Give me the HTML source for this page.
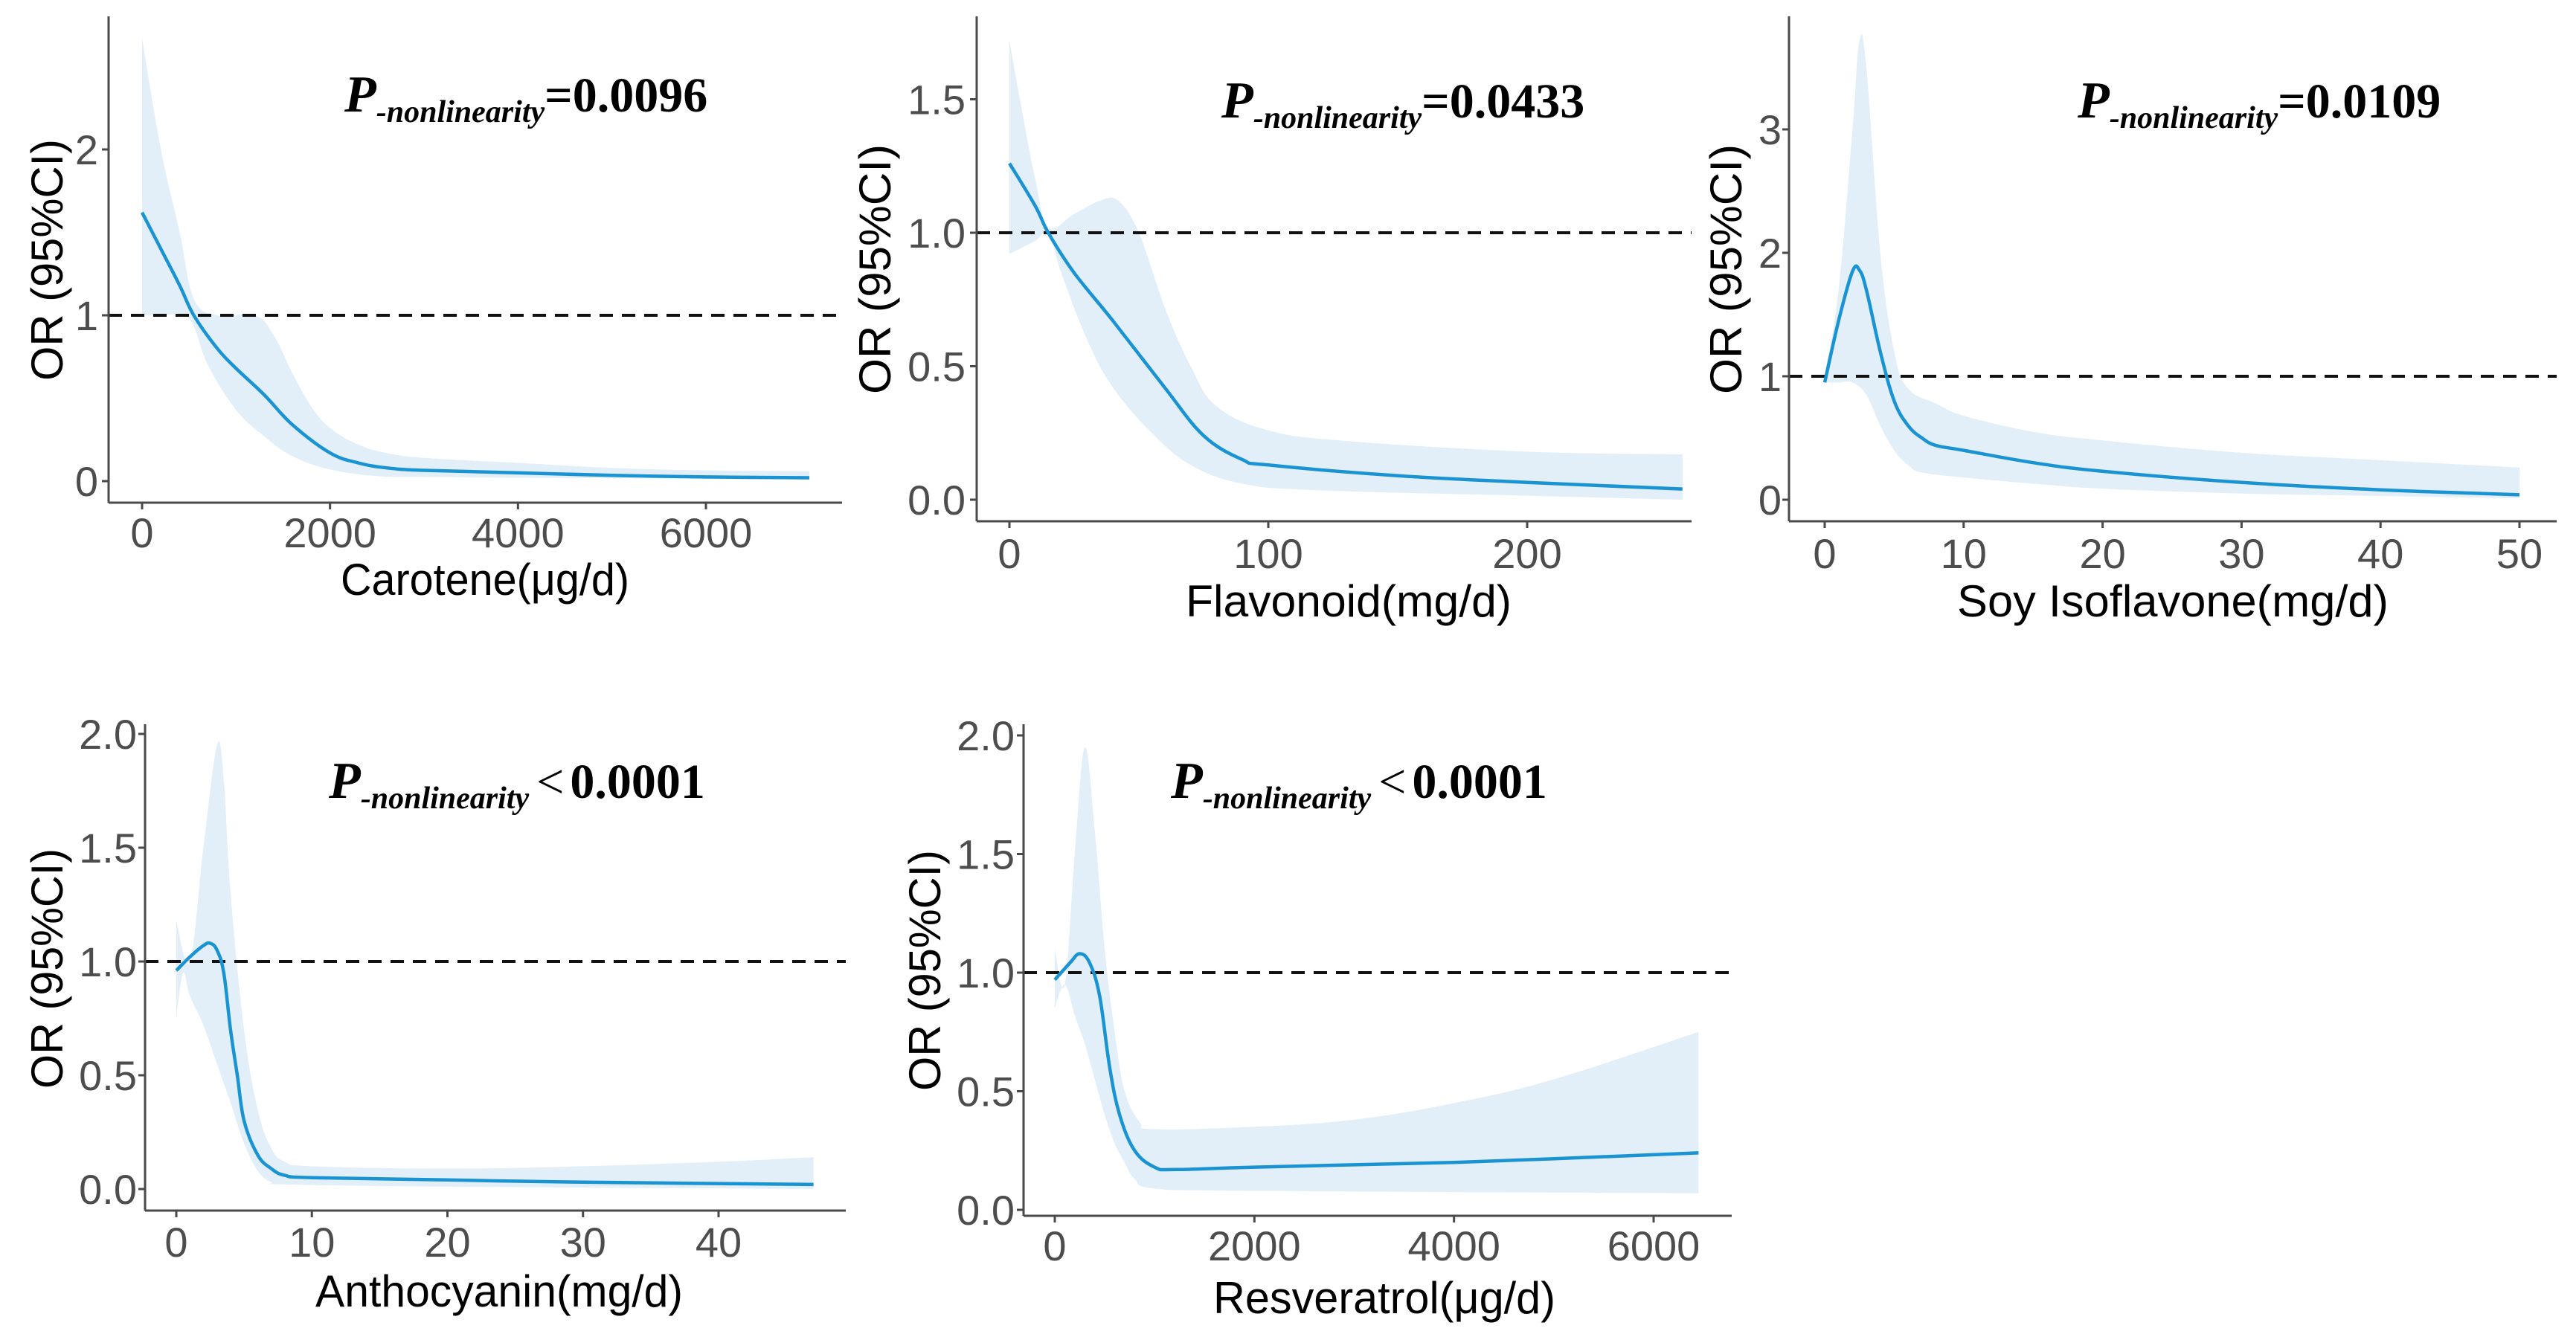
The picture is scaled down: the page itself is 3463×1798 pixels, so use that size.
<!DOCTYPE html>
<html><head><meta charset="utf-8">
<style>
html,body{margin:0;padding:0;background:#fff;}
svg{display:block;}
</style></head>
<body>
<svg id="chart" width="3463" height="1798" viewBox="0 0 3463 1798" xmlns="http://www.w3.org/2000/svg"></svg>
<script>
// ---- Panel 1: Carotene ----
const p1X = [0,200,400,550,800,1000,1300,1600,2000,2300,2600,3000,4000,5000,6000,7100];
const p1Y = [1.62,1.4,1.18,1.0,0.8,0.68,0.52,0.34,0.17,0.11,0.08,0.065,0.05,0.035,0.025,0.02];
const p1UX = [0,200,400,550,800,1200,1400,1600,1800,2000,2300,2600,3000,4000,5000,6000,7100];
const p1U = [2.67,2.0,1.5,1.1,1.0,1.0,0.88,0.65,0.45,0.32,0.22,0.17,0.14,0.11,0.08,0.065,0.06];
const p1LX = [0,200,500,700,1000,1300,1600,2000,2500,3000,4000,7100];
const p1L = [1.0,1.0,0.98,0.7,0.43,0.27,0.15,0.07,0.03,0.025,0.02,0.01];
const p1XTicks = [0,2000,4000,6000];
const p1YTicks = [0,1,2];
const p1YLabels = ["0","1","2"];
// ---- Panel 2: Flavonoid ----
const p2X = [0,10,15,25,40,60,75,90,100,150,200,260];
const p2Y = [1.26,1.1,1.0,0.85,0.67,0.42,0.24,0.15,0.13,0.09,0.065,0.04];
const p2UX = [0,5,10,15,25,35,42,50,60,70,80,100,130,200,260];
const p2U = [1.72,1.45,1.2,1.02,1.07,1.12,1.12,1.0,0.72,0.5,0.35,0.26,0.22,0.18,0.17];
const p2LX = [0,10,15,20,30,40,55,70,90,120,200,260];
const p2L = [0.92,0.97,1.0,0.85,0.6,0.42,0.25,0.13,0.06,0.035,0.015,0.0];
const p2XTicks = [0,100,200];
const p2YTicks = [0,0.5,1.0,1.5];
const p2YLabels = ["0.0","0.5","1.0","1.5"];
// ---- Panel 3: Soy Isoflavone ----
const p3X = [0,1,2,2.5,3,4,5,6,7,8,10,15,20,30,40,50];
const p3Y = [0.95,1.45,1.85,1.86,1.7,1.2,0.8,0.6,0.5,0.44,0.4,0.3,0.23,0.14,0.08,0.04];
const p3UX = [0,1,2,2.5,3,4,5,6,8,10,15,20,30,40,50];
const p3U = [1.0,1.7,3.0,3.72,3.5,2.0,1.2,0.9,0.78,0.68,0.55,0.48,0.38,0.32,0.26];
const p3LX = [0,1,2,3,4,5,6,7,10,15,20,30,40,50];
const p3L = [0.95,0.95,0.95,0.85,0.6,0.4,0.28,0.22,0.18,0.13,0.09,0.05,0.03,0.01];
const p3XTicks = [0,10,20,30,40,50];
const p3YTicks = [0,1,2,3];
const p3YLabels = ["0","1","2","3"];
// ---- Panel 4: Anthocyanin ----
const p4X = [0,1,2,2.5,3,3.5,4,4.5,5,6,7,8,10,20,30,47];
const p4Y = [0.96,1.02,1.07,1.08,1.05,0.95,0.7,0.5,0.3,0.15,0.09,0.06,0.05,0.04,0.03,0.02];
const p4UX = [0,1,2,3,3.5,4,5,6,7,8,10,20,30,40,47];
const p4U = [1.18,1.0,1.5,1.95,1.8,1.3,0.7,0.35,0.18,0.12,0.1,0.09,0.1,0.12,0.14];
const p4LX = [0,0.5,1,2,3,4,5,6,7,8,20,47];
const p4L = [0.75,0.95,0.85,0.72,0.55,0.38,0.2,0.08,0.03,0.02,0.01,0.0];
const p4XTicks = [0,10,20,30,40];
const p4YTicks = [0,0.5,1.0,1.5,2.0];
const p4YLabels = ["0.0","0.5","1.0","1.5","2.0"];
// ---- Panel 5: Resveratrol ----
const p5X = [0,150,250,350,450,550,650,800,1000,1200,2000,4000,6450];
const p5Y = [0.97,1.04,1.08,1.04,0.9,0.6,0.4,0.25,0.18,0.17,0.18,0.2,0.24];
const p5UX = [0,100,200,300,400,500,600,700,850,1000,2000,3000,4000,5000,6450];
const p5U = [1.1,0.95,1.5,1.95,1.6,1.1,0.75,0.5,0.37,0.34,0.35,0.38,0.45,0.55,0.75];
const p5LX = [0,100,200,300,400,500,600,700,800,1000,2000,6450];
const p5L = [0.85,0.95,0.82,0.7,0.55,0.4,0.28,0.2,0.13,0.09,0.08,0.07];
const p5XTicks = [0,2000,4000,6000];
const p5YTicks = [0,0.5,1.0,1.5,2.0];
const p5YLabels = ["0.0","0.5","1.0","1.5","2.0"];

const NS = "http://www.w3.org/2000/svg";
const svg = document.getElementById("chart");
function mk(tag, attrs, parent){
  const e = document.createElementNS(NS, tag);
  for (const k in attrs) e.setAttribute(k, attrs[k]);
  (parent||svg).appendChild(e);
  return e;
}
// smooth path segments through points (Catmull-Rom to Bezier)
function smooth(pts, start){
  let d = start ? "M" + pts[0][0].toFixed(1) + "," + pts[0][1].toFixed(1) : " L" + pts[0][0].toFixed(1) + "," + pts[0][1].toFixed(1);
  const k = 0.18;
  for (let i = 0; i < pts.length - 1; i++) {
    const p0 = pts[Math.max(0,i-1)], p1 = pts[i], p2 = pts[i+1], p3 = pts[Math.min(pts.length-1,i+2)];
    const c1x = p1[0] + (p2[0]-p0[0])*k, c1y = p1[1] + (p2[1]-p0[1])*k;
    const c2x = p2[0] - (p3[0]-p1[0])*k, c2y = p2[1] - (p3[1]-p1[1])*k;
    d += " C" + c1x.toFixed(1)+","+c1y.toFixed(1)+" "+c2x.toFixed(1)+","+c2y.toFixed(1)+" "+p2[0].toFixed(1)+","+p2[1].toFixed(1);
  }
  return d;
}
const panels = [
  {key:"carotene", X:p1X,Y:p1Y,UX:p1UX,U:p1U,LX:p1LX,L:p1L,xt:p1XTicks,yt:p1YTicks,yl:p1YLabels,
   ax:146, axR:1132, top:22, bot:676, x0:191, x1:949, xv0:0, xv1:6000, y0:647, y1:424, yv1:1,
   xtitle:"Carotene(μg/d)", xtitleC:652, xtitleB:800, xtitleW:388, xtickB:736,
   ytitleX:63, ytitleA:187, ytitleB:512, ytickR:132,
   annX:463, annB:150, val:"=0.0096", lt:false},
  {key:"flavonoid", X:p2X,Y:p2Y,UX:p2UX,U:p2U,LX:p2LX,L:p2L,xt:p2XTicks,yt:p2YTicks,yl:p2YLabels,
   ax:1313, axR:2274, top:22, bot:701, x0:1357, x1:2053, xv0:0, xv1:200, y0:672, y1:313, yv1:1,
   xtitle:"Flavonoid(mg/d)", xtitleC:1813, xtitleB:829, xtitleW:438, xtickB:764,
   ytitleX:1176, ytitleA:194, ytitleB:530, ytickR:1298,
   annX:1642, annB:158, val:"=0.0433", lt:false},
  {key:"soy-isoflavone", X:p3X,Y:p3Y,UX:p3UX,U:p3U,LX:p3LX,L:p3L,xt:p3XTicks,yt:p3YTicks,yl:p3YLabels,
   ax:2405, axR:3437, top:22, bot:701, x0:2453, x1:3387, xv0:0, xv1:50, y0:672, y1:506, yv1:1,
   xtitle:"Soy Isoflavone(mg/d)", xtitleC:2921, xtitleB:829, xtitleW:580, xtickB:764,
   ytitleX:2320, ytitleA:194, ytitleB:530, ytickR:2395,
   annX:2793, annB:158, val:"=0.0109", lt:false},
  {key:"anthocyanin", X:p4X,Y:p4Y,UX:p4UX,U:p4U,LX:p4LX,L:p4L,xt:p4XTicks,yt:p4YTicks,yl:p4YLabels,
   ax:195, axR:1137, top:974, bot:1628, x0:237, x1:966, xv0:0, xv1:40, y0:1599, y1:1293, yv1:1,
   xtitle:"Anthocyanin(mg/d)", xtitleC:671, xtitleB:1757, xtitleW:494, xtickB:1690,
   ytitleX:63, ytitleA:1141, ytitleB:1464, ytickR:184,
   annX:442, annB:1073, val:"0.0001", lt:true},
  {key:"resveratrol", X:p5X,Y:p5Y,UX:p5UX,U:p5U,LX:p5LX,L:p5L,xt:p5XTicks,yt:p5YTicks,yl:p5YLabels,
   ax:1376, axR:2328, top:974, bot:1635, x0:1418, x1:2223, xv0:0, xv1:6000, y0:1627, y1:1308, yv1:1,
   xtitle:"Resveratrol(μg/d)", xtitleC:1861, xtitleB:1766, xtitleW:460, xtickB:1695,
   ytitleX:1243, ytitleA:1143, ytitleB:1467, ytickR:1364,
   annX:1574, annB:1073, val:"0.0001", lt:true}
];

panels.forEach(p => {
  const g = mk("g", {});
  
  
  const sx = v => p.x0 + (v - p.xv0) * (p.x1 - p.x0) / (p.xv1 - p.xv0);
  const sy = v => p.y0 - v * (p.y0 - p.y1) / p.yv1;

  const upPts = p.UX.map((x,i)=>[sx(x), sy(p.U[i])]);
  const loPts = p.LX.map((x,i)=>[sx(x), sy(p.L[i])]).reverse();
  const d = smooth(upPts, true) + smooth(loPts, false) + " Z";
  const band = mk("path", {d:d, fill:"#e2eff9", stroke:"none"}, g);
  
  

  const ref = mk("line", {x1:p.ax, x2:p.axR, y1:sy(1), y2:sy(1), stroke:"#111", "stroke-width":4, "stroke-dasharray":"18 12"}, g);
  
  

  const ln = mk("path", {d:smooth(p.X.map((x,i)=>[sx(x), sy(p.Y[i])]), true),
    fill:"none", stroke:"#1a93d2", "stroke-width":4.5, "stroke-linejoin":"round"}, g);
  
  

  const ya = mk("line", {x1:p.ax, x2:p.ax, y1:p.top, y2:p.bot, stroke:"#4a4a4a", "stroke-width":3}, g);
  
  
  const xa = mk("line", {x1:p.ax, x2:p.axR, y1:p.bot, y2:p.bot, stroke:"#4a4a4a", "stroke-width":3}, g);
  
  

  p.yt.forEach((v,i) => {
    const t = mk("line", {x1:p.ax-9, x2:p.ax, y1:sy(v), y2:sy(v), stroke:"#4a4a4a", "stroke-width":3}, g);
    
    
    const lab = mk("text", {x:p.ytickR, y:sy(v)+20, "text-anchor":"end", "font-family":"Liberation Sans, sans-serif",
      "font-size":56, fill:"#4d4d4d"}, g);
    lab.textContent = p.yl[i];
    
    
  });
  p.xt.forEach(v => {
    const t = mk("line", {x1:sx(v), x2:sx(v), y1:p.bot, y2:p.bot+9, stroke:"#4a4a4a", "stroke-width":3}, g);
    
    
    const lab = mk("text", {x:sx(v), y:p.xtickB, "text-anchor":"middle", "font-family":"Liberation Sans, sans-serif",
      "font-size":56, fill:"#4d4d4d"}, g);
    lab.textContent = String(v);
    
    
  });
  const xt = mk("text", {x:p.xtitleC - p.xtitleW/2, y:p.xtitleB, "font-family":"Liberation Sans, sans-serif",
    "font-size":60, fill:"#000", textLength:p.xtitleW, lengthAdjust:"spacingAndGlyphs"}, g);
  xt.textContent = p.xtitle;
  
  
  const yl = p.ytitleB - p.ytitleA;
  const yt = mk("text", {x:0, y:0, "font-family":"Liberation Sans, sans-serif", "font-size":60, fill:"#000",
    textLength:yl, lengthAdjust:"spacingAndGlyphs",
    transform:"translate(" + (p.ytitleX+21) + "," + p.ytitleB + ") rotate(-90)"}, g);
  yt.textContent = "OR (95%CI)";
  
  
  const an = mk("text", {x:p.annX, y:p.annB, "font-family":"Liberation Serif, serif", "font-weight":"bold", fill:"#000"}, g);
  
  
  const t1 = mk("tspan", {"font-style":"italic", "font-size":70}, an); t1.textContent = "P";
  const t2 = mk("tspan", {"font-style":"italic", "font-size":42, dy:14}, an); t2.textContent = "-nonlinearity";
  if (p.lt) {
    const t3 = mk("tspan", {"font-size":66, dy:-14, "font-weight":"normal", dx:10}, an); t3.textContent = "<";
    const t4 = mk("tspan", {"font-size":66, dx:8}, an); t4.textContent = p.val;
  } else {
    const t3 = mk("tspan", {"font-size":66, dy:-14}, an); t3.textContent = p.val;
  }
});
</script>
</body></html>
